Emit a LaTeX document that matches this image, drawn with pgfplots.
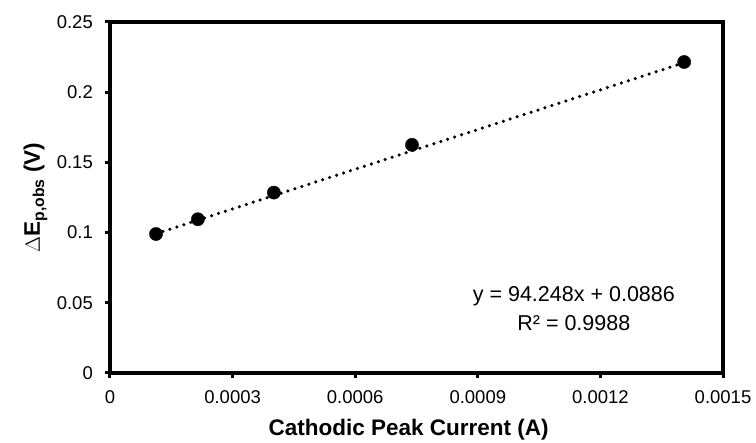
\documentclass[border=0pt]{standalone}
\usepackage{pgfplots}
\pgfplotsset{compat=1.18}
\usepackage{fontspec}
\setmainfont{Liberation Sans}
\usetikzlibrary{calc}

\begin{document}
\begin{tikzpicture}
\begin{axis}[
  scale only axis,
  width=613pt, height=351pt,
  xmin=0, xmax=0.0015, ymin=0, ymax=0.25,
  xtick={0,0.0003,0.0006,0.0009,0.0012,0.0015},
  xticklabels={0,0.0003,0.0006,0.0009,0.0012,0.0015},
  ytick={0,0.05,0.1,0.15,0.2,0.25},
  yticklabels={0,0.05,0.1,0.15,0.2,0.25},
  scaled x ticks=false,
  axis line style={line width=3.6pt},
  tick style={line width=3pt, black},
  tick align=outside,
  major tick length=5pt,
  xtick pos=bottom, ytick pos=left,
  every tick label/.append style={font=\fontsize{18.5}{22}\selectfont},
  xticklabel style={anchor=base, inner sep=0pt, yshift=-25pt},
  yticklabel style={anchor=east, inner sep=0pt, xshift=-12pt},
  xlabel={\fontsize{22.5}{26}\selectfont\textbf{Cathodic Peak Current (A)}},
  ylabel={\fontsize{22.5}{26}\selectfont\textbf{$\Delta$E\textsubscript{p,obs} (V)}},
  xlabel style={at={(axis description cs:0.487,-0.1624)}, anchor=center},
  ylabel style={at={(axis description cs:-0.1215,0.5)}, anchor=center},
  clip=false,
]
% least-squares trendline between the first and last currents
\addplot[black, line width=3.5pt, line cap=round, dash pattern=on 0pt off 7.3pt]
  coordinates {(0.0001126,0.09921) (0.001405,0.22102)};
% measured peak separations
\addplot[only marks, mark=*, mark size=6.6pt, black]
  coordinates {
    (0.0001126,0.0990)
    (0.000215,0.1095)
    (0.000401,0.1285)
    (0.000739,0.1625)
    (0.001405,0.2215)
  };
\node[align=center, font=\fontsize{21.5}{29}\selectfont] at (axis cs:0.001135,0.0456)
  {y = 94.248x + 0.0886\\R² = 0.9988};
\coordinate (sw) at (rel axis cs:0,0);
\coordinate (ne) at (rel axis cs:1,1);
\end{axis}
\pgfresetboundingbox
\path[use as bounding box] ($(sw)+(-110pt,-70pt)$) rectangle ($(ne)+(33pt,22pt)$);
\end{tikzpicture}
\end{document}
